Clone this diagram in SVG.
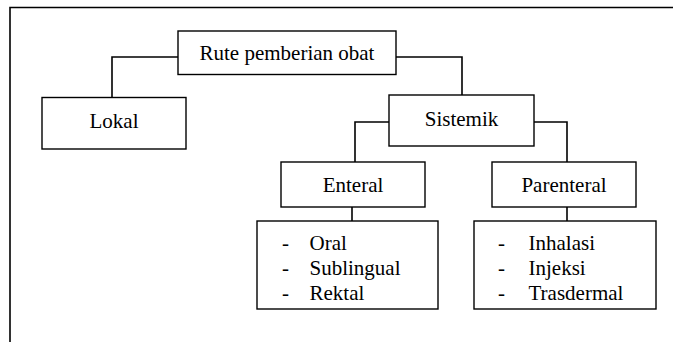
<svg xmlns="http://www.w3.org/2000/svg" width="673" height="342" viewBox="0 0 673 342">
<style>
.box{fill:#fff;stroke:#000;stroke-width:1.4}
.ln{fill:none;stroke:#000;stroke-width:1.6}
text{font-family:"Liberation Serif","Times New Roman",serif;font-size:21px;fill:#000}
.c{text-anchor:middle}
</style>
<rect width="673" height="342" fill="#fff"/>
<g id="frame">
<path class="ln" d="M10,342 V7.5 H673" stroke-width="1.4"/>
</g>
<g id="connectors">
<path class="ln" d="M178,57 H112 V97.5"/>
<path class="ln" d="M396,57 H462 V95"/>
<path class="ln" d="M389,122 H355 V162"/>
<path class="ln" d="M534,122 H567 V162"/>
<path class="ln" d="M352,207 V221"/>
<path class="ln" d="M567,207 V221"/>
</g>
<g id="root">
<rect class="box" x="178" y="31" width="218" height="43.5"/>
<text class="c" x="287" y="60">Rute pemberian obat</text>
</g>
<g id="lokal">
<rect class="box" x="42" y="97.5" width="144" height="51.5"/>
<text class="c" x="114" y="128.3">Lokal</text>
</g>
<g id="sistemik">
<rect class="box" x="389" y="95" width="145" height="51"/>
<text class="c" x="461.5" y="125.7">Sistemik</text>
</g>
<g id="enteral">
<rect class="box" x="281" y="162" width="144" height="45"/>
<text class="c" x="353" y="192">Enteral</text>
</g>
<g id="parenteral">
<rect class="box" x="492" y="162" width="144" height="45"/>
<text class="c" x="564" y="192">Parenteral</text>
</g>
<g id="enteral-list">
<rect class="box" x="257" y="221" width="181" height="88"/>
<text x="282" y="250">-</text><text x="309.5" y="250">Oral</text>
<text x="282" y="275">-</text><text x="309.5" y="275">Sublingual</text>
<text x="282" y="300">-</text><text x="309.5" y="300">Rektal</text>
</g>
<g id="parenteral-list">
<rect class="box" x="474" y="221" width="182" height="88"/>
<text x="498" y="250">-</text><text x="528.5" y="250">Inhalasi</text>
<text x="498" y="275">-</text><text x="528.5" y="275">Injeksi</text>
<text x="498" y="300">-</text><text x="528.5" y="300">Trasdermal</text>
</g>
</svg>
